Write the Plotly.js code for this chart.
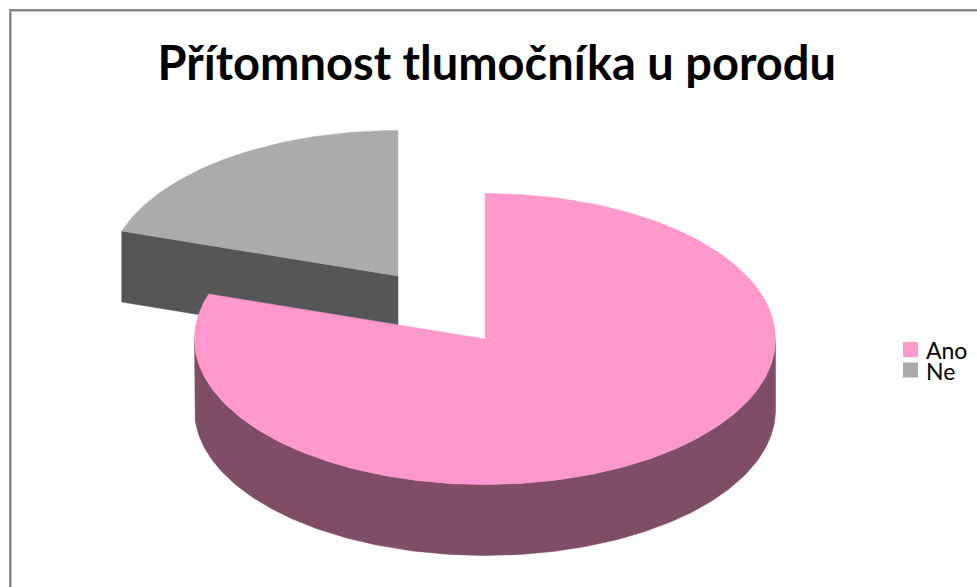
<!DOCTYPE html>
<html>
<head>
<meta charset="utf-8">
<script src="https://cdn.plot.ly/plotly-3.0.1.min.js"></script>
<style>html,body{margin:0;padding:0;background:#fff}#chart{width:977px;height:587px}</style>
</head>
<body>
<div id="chart"></div>
<script>
// Survey answers, in percent
const categories = ["Ano", "Ne"];
const shares = [80, 20];

const topColors = ["#FF99CC", "#ABABAB"];
const sideColors = ["#804D66", "#565656"];

// Projection of the tilted disc onto the page, in page pixels
const disc = { rx: 290.5, ry: 145.5, depth: 71, step: 1 };
const centres = [{ x: 485, y: 339 }, { x: 398, y: 276 }];

const total = shares.reduce((a, b) => a + b, 0);
const sweeps = shares.map(v => v / total * 360);

// Point on the rim; angle in degrees, clockwise from twelve o'clock
function rim(c, deg, drop) {
  const a = deg * Math.PI / 180;
  return [c.x + disc.rx * Math.sin(a), c.y - disc.ry * Math.cos(a) + (drop || 0)];
}

function arc(c, from, to, drop) {
  const pts = [];
  const n = Math.max(1, Math.ceil(Math.abs(to - from) / disc.step));
  for (let i = 0; i <= n; i++) pts.push(rim(c, from + (to - from) * i / n, drop));
  return pts;
}

function polygon(pts, color, name) {
  const closed = pts.concat([pts[0]]);
  return {
    type: "scatter", mode: "lines", fill: "toself", fillcolor: color,
    x: closed.map(p => p[0]), y: closed.map(p => p[1]),
    line: { width: 0.5, color: color }, hoverinfo: "text", text: name,
    showlegend: false
  };
}

function topFace(c, from, to, color, name) {
  return polygon([[c.x, c.y]].concat(arc(c, from, to)), color, name);
}

// Outer wall: only the near half of the rim (90 to 270 degrees) faces the viewer
function wall(c, from, to, color, name) {
  const a = Math.max(from, 90), b = Math.min(to, 270);
  if (b <= a) return null;
  return polygon(arc(c, a, b).concat(arc(c, b, a, disc.depth)), color, name);
}

// Flat cut face running from the centre out to the rim at a given angle
function cutFace(c, deg, color, name) {
  const p = rim(c, deg);
  return polygon([[c.x, c.y], p, [p[0], p[1] + disc.depth], [c.x, c.y + disc.depth]], color, name);
}

const startNe = sweeps[0];
const traces = [
  // Detached slice sits behind, so it goes down first
  cutFace(centres[1], startNe, sideColors[1], categories[1]),
  topFace(centres[1], startNe, 360, topColors[1], categories[1]),
  wall(centres[0], 0, sweeps[0], sideColors[0], categories[0]),
  topFace(centres[0], 0, sweeps[0], topColors[0], categories[0])
].filter(Boolean);

// Legend keys and labels
const legendX = 910.5, legendTextX = 924.5;
const legendY = [349.5, 370];
const legendTextY = [349.5, 371];
traces.push({
  type: "scatter", mode: "markers", hoverinfo: "skip", showlegend: false,
  x: categories.map(() => legendX), y: legendY,
  marker: { symbol: "square", size: 15, color: topColors, line: { width: 0 } }
});

const layout = {
  width: 977, height: 587,
  margin: { l: 0, r: 0, t: 0, b: 0 },
  paper_bgcolor: "#fff", plot_bgcolor: "#fff",
  showlegend: false,
  title: {
    text: "<b>Přítomnost tlumočníka u porodu</b>",
    font: { family: "Lato", size: 47, color: "#000" },
    x: 0.5085, xanchor: "center", y: 0.891, yanchor: "middle"
  },
  xaxis: { range: [0, 977], visible: false, fixedrange: true },
  yaxis: { range: [587, 0], visible: false, fixedrange: true },
  shapes: [{
    type: "rect", xref: "x", yref: "y",
    x0: 10.3, y0: 10.3, x1: 1200, y1: 900,
    line: { color: "#868686", width: 2.4 }, layer: "above"
  }],
  annotations: categories.map((c, i) => ({
    text: c, xref: "x", yref: "y", x: legendTextX, y: legendTextY[i],
    xanchor: "left", yanchor: "middle", showarrow: false, borderpad: 0, height: 20,
    font: { family: "Lato", size: 23, color: "#000" }
  }))
};

Plotly.newPlot("chart", traces, layout, { displayModeBar: false, responsive: false });
</script>
</body>
</html>
